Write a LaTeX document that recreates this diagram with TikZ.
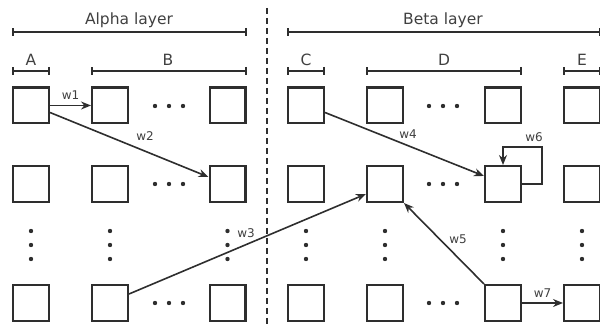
\documentclass[tikz,border=0pt]{standalone}
\usepackage{fontspec}
\setmainfont{DejaVu Sans}
\usetikzlibrary{arrows.meta}
\definecolor{ink}{HTML}{2E2E2E}
\definecolor{txt}{HTML}{404040}
\begin{document}
\begin{tikzpicture}[x=1pt,y=-1pt,
  cell/.style={draw=ink,line width=2.4pt,minimum width=35.6pt,minimum height=35.6pt,inner sep=0pt},
  arr/.style={draw=ink,line width=1.6pt,-{Stealth[length=10pt,width=8pt]}},
  brk/.style={draw=ink,line width=1.7pt,{Bar[width=8pt]}-{Bar[width=8pt]}},
  hd/.style={text=txt,font=\fontsize{15.5}{16}\selectfont,anchor=base,inner sep=0pt},
  wl/.style={text=txt,font=\fontsize{12}{12}\selectfont,inner sep=0pt},
  dot/.style={fill=ink,draw=none}]
\useasboundingbox (0,0) rectangle (600,328);
% headers
\node[hd] (alpha) at (129,25) {Alpha layer};
\node[hd] (beta) at (443,25) {Beta layer};
\draw[brk] (12,32) -- (247,32);
\draw[brk] (287,32) -- (601,32);
\node[hd] (la) at (31,66) {A};
\node[hd] (lb) at (168,66) {B};
\node[hd] (lc) at (306,66) {C};
\node[hd] (ld) at (444,66) {D};
\node[hd] (le) at (582,66) {E};
\draw[brk] (12,71) -- (50,71);
\draw[brk] (91,71) -- (247,71);
\draw[brk] (287,71) -- (325,71);
\draw[brk] (366,71) -- (522,71);
\draw[brk] (563,71) -- (601,71);
% divider
\draw[draw=ink,line width=1.5pt,dash pattern=on 6pt off 4pt] (267,8) -- (267,328);
% cells
\foreach \n/\x in {A/31,B/110,Bz/227.5,C/306,D/385,Dz/503,E/582}{
  \node[cell] (\n1) at (\x,105.5) {};
  \node[cell] (\n2) at (\x,184) {};
  \node[cell] (\n4) at (\x,303) {};
  \foreach \y in {231,245,259}{\fill[dot] (\x,\y) circle (2.2pt);}
}
\foreach \yy in {106,184,303}{
  \foreach \x in {155,169,183,429,443,457}{\fill[dot] (\x,\yy) circle (2.2pt);}
}
% connectors
\draw[arr] (A1.east) -- node[wl,above=5pt] {w1} (B1.west);
\draw[arr] ([yshift=-7pt]A1.east) -- ([yshift=7pt]Bz2.west);
\node[wl] (w2) at (145,136) {w2};
\draw[arr] ([yshift=9pt]B4.east) -- ([yshift=-10pt]D2.west);
\node[wl] (w3) at (246,233) {w3};
\draw[arr] ([yshift=-7pt]C1.east) -- ([yshift=8pt]Dz2.west);
\node[wl] (w4) at (408,134) {w4};
\draw[arr] (Dz4.north west) -- (D2.south east);
\node[wl] (w5) at (458,239) {w5};
\draw[arr] (Dz2.east) -- ++(20,0) |- ([yshift=18pt]Dz2.north) -- (Dz2.north);
\node[wl] (w6) at (534,137) {w6};
\draw[arr] (Dz4.east) -- node[wl,above=5pt] {w7} (E4.west);
\end{tikzpicture}
\end{document}
